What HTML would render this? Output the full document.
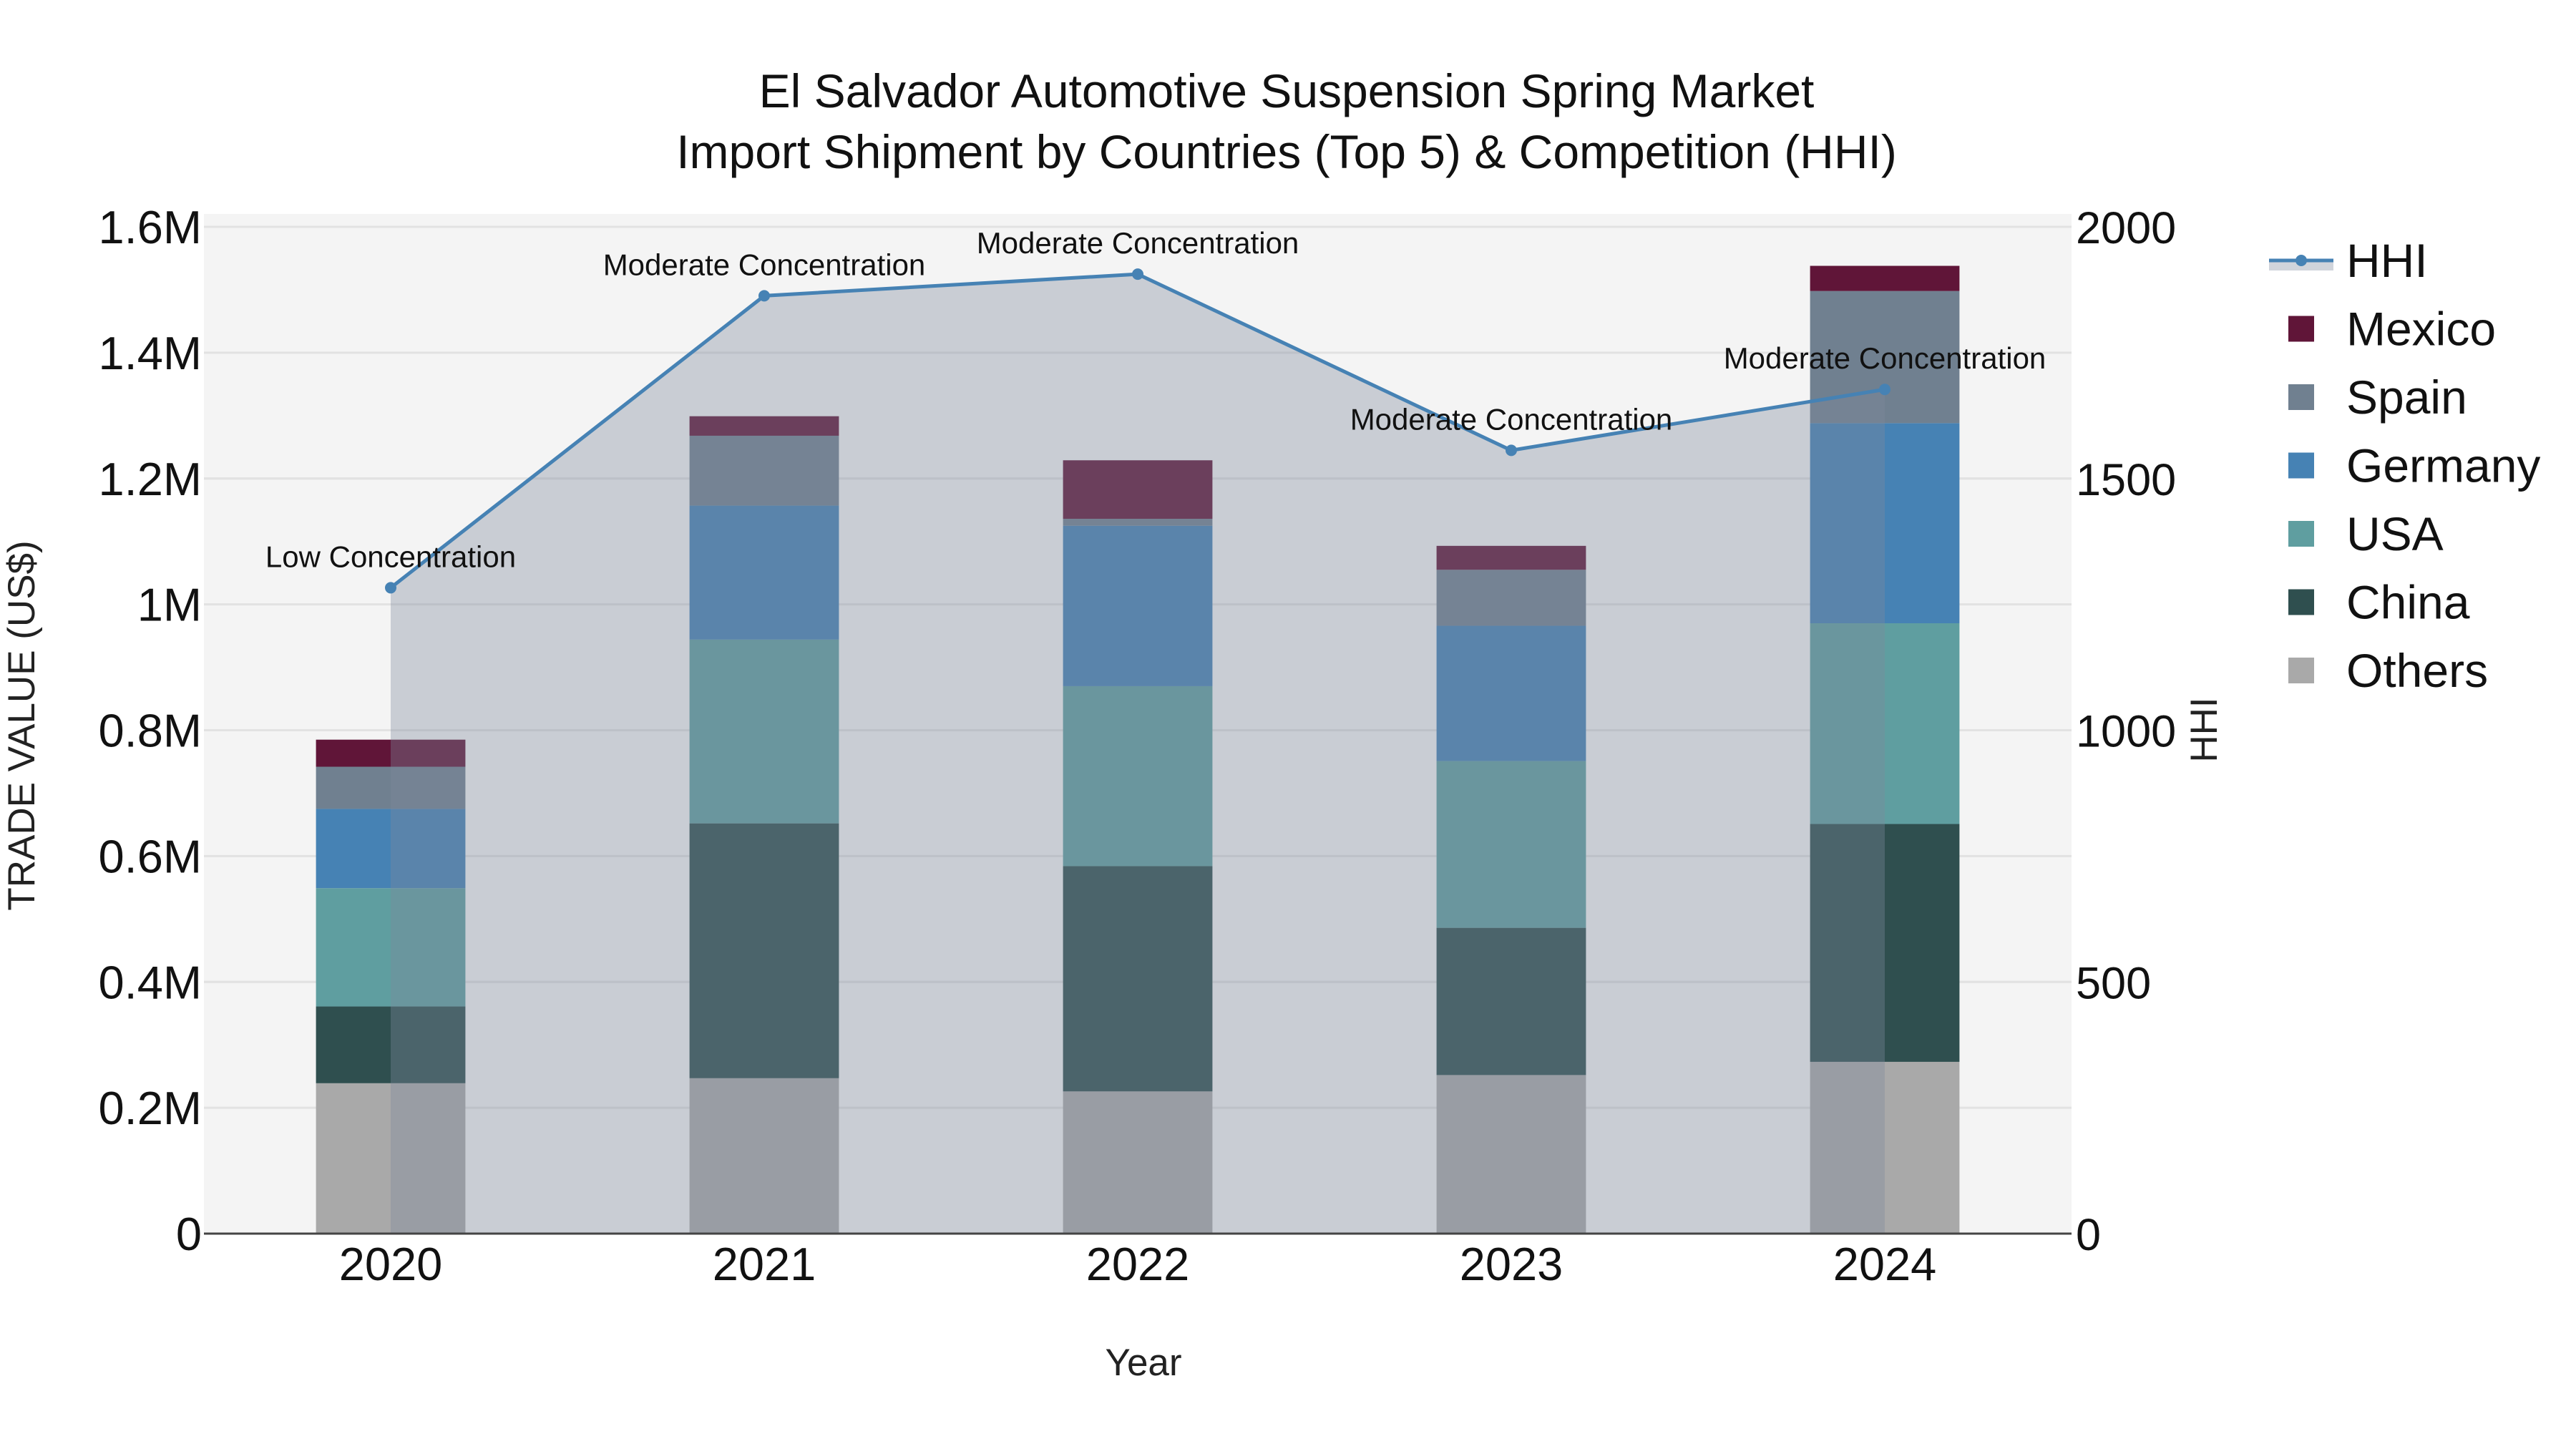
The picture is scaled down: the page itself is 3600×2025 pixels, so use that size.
<!DOCTYPE html>
<html><head><meta charset="utf-8"><style>
html,body{margin:0;padding:0;background:#fff;}
svg{display:block;font-family:"Liberation Sans",sans-serif;}
</style></head><body>
<svg id="chart" width="3600" height="2025" viewBox="0 0 3600 2025" xmlns="http://www.w3.org/2000/svg">
  <rect x="0" y="0" width="3600" height="2025" fill="#ffffff"/>
  <rect x="285" y="299" width="2610" height="1425" fill="#f4f4f4"/>
  <g id="grid"></g>
  <g id="bars"></g>
  <g id="hhi"></g>
  <g id="axes"></g>
  <text x="1798" y="150" text-anchor="middle" font-size="66" fill="#111">El Salvador Automotive Suspension Spring Market</text>
  <text x="1798" y="235" text-anchor="middle" font-size="66" fill="#111">Import Shipment by Countries (Top 5) &amp; Competition (HHI)</text>
  <text x="1598" y="1922" text-anchor="middle" font-size="53" fill="#222">Year</text>
  <text transform="translate(48,1014) rotate(-90)" text-anchor="middle" font-size="53" fill="#222">TRADE VALUE (US$)</text>
  <text transform="translate(3098,1020) rotate(-90)" text-anchor="middle" font-size="53" fill="#222">HHI</text>
  <g id="legend"></g>
</svg>
<script>
const years = ["2020","2021","2022","2023","2024"];
const seriesNames = ["Others","China","USA","Germany","Spain","Mexico"];
const others  = [0.239, 0.247, 0.226, 0.252, 0.273];
const china   = [0.122, 0.405, 0.358, 0.234, 0.378];
const usa     = [0.188, 0.292, 0.286, 0.265, 0.319];
const germany = [0.126, 0.213, 0.255, 0.215, 0.318];
const spain   = [0.067, 0.111, 0.011, 0.089, 0.210];
const mexico  = [0.043, 0.031, 0.093, 0.038, 0.040];
const hhi = [1283, 1863, 1906, 1556, 1677];
const hhiLabels = ["Low Concentration","Moderate Concentration","Moderate Concentration","Moderate Concentration","Moderate Concentration"];
const yTicks = [0,0.2,0.4,0.6,0.8,1,1.2,1.4,1.6];
const yTickLabels = ["0","0.2M","0.4M","0.6M","0.8M","1M","1.2M","1.4M","1.6M"];
const y2Ticks = [0,500,1000,1500,2000];

const colors = {Others:"#a9a9a9",China:"#2f4f4f",USA:"#5f9ea0",Germany:"#4682b4",Spain:"#708090",Mexico:"#601538"};
const values = {Others:others,China:china,USA:usa,Germany:germany,Spain:spain,Mexico:mexico};
const NS="http://www.w3.org/2000/svg";
const L=285,R=2895,T=299,B=1724;
const pxPerM=(1724-317)/1.6;
function xc(i){return L+(R-L)/years.length*(i+0.5);}
function yv(v){return B-v*pxPerM;}
function y2(v){return B-v/2000*(1724-317);}
function mk(tag,attrs,parent){const e=document.createElementNS(NS,tag);for(const k in attrs)e.setAttribute(k,attrs[k]);parent.appendChild(e);return e;}

const grid=document.getElementById('grid');
yTicks.forEach((t,i)=>{
  if(i===0)return;
  const g=mk('line',{x1:L,x2:R,y1:yv(t),y2:yv(t),stroke:'#e2e2e2','stroke-width':3},grid);
  
  
});
y2Ticks.forEach((t,i)=>{
  if(i===0)return;
  const g=mk('line',{x1:L,x2:R,y1:y2(t),y2:y2(t),stroke:'#e2e2e2','stroke-width':3},grid);
  
  
});

const bars=document.getElementById('bars');
const bw=(R-L)/years.length*0.4;
years.forEach((yr,i)=>{
  let base=0;
  seriesNames.forEach(s=>{
    const v=values[s][i];
    const r=mk('rect',{x:xc(i)-bw/2,y:yv(base+v),width:bw,height:yv(base)-yv(base+v),fill:colors[s]},bars);
    
    
    base+=v;
  });
});

const hg=document.getElementById('hhi');
let pts=hhi.map((v,i)=>xc(i)+','+y2(v));
const area=mk('polygon',{points:xc(0)+','+B+' '+pts.join(' ')+' '+xc(hhi.length-1)+','+B,fill:'rgba(125,136,155,0.365)'},hg);


const line=mk('polyline',{points:pts.join(' '),fill:'none',stroke:'#4682b4','stroke-width':5},hg);


hhi.forEach((v,i)=>{
  const c=mk('circle',{cx:xc(i),cy:y2(v),r:8,fill:'#4682b4'},hg);
  
  
  const t=mk('text',{x:xc(i),y:y2(v)-29,'text-anchor':'middle','font-size':42,fill:'#111'},hg);
  t.textContent=hhiLabels[i];
  
  
});

const ax=document.getElementById('axes');
const bl=mk('line',{x1:L,x2:R,y1:B,y2:B,stroke:'#444','stroke-width':3},ax);


yTicks.forEach((t,i)=>{
  const e=mk('text',{x:282,y:yv(t)+23,'text-anchor':'end','font-size':65,fill:'#111'},ax);
  e.textContent=yTickLabels[i];
  
  
});
y2Ticks.forEach(t=>{
  const e=mk('text',{x:2901,y:y2(t)+23,'text-anchor':'start','font-size':63,fill:'#111'},ax);
  e.textContent=String(t);
  
  
});
years.forEach((yr,i)=>{
  const e=mk('text',{x:xc(i),y:1789,'text-anchor':'middle','font-size':65,fill:'#111'},ax);
  e.textContent=yr;
  
  
});

const lg=document.getElementById('legend');
const lx=3171,tx=3279;
const hb=mk('rect',{x:lx,y:364,width:90,height:14,fill:'rgba(125,136,155,0.365)'},lg);


const hl=mk('line',{x1:lx,x2:lx+90,y1:364,y2:364,stroke:'#4682b4','stroke-width':5},lg);


const hc=mk('circle',{cx:lx+45,cy:364,r:8,fill:'#4682b4'},lg);


const ht=mk('text',{x:tx,y:387,'font-size':66,fill:'#111'},lg);
ht.textContent='HHI';


const legendOrder=["Mexico","Spain","Germany","USA","China","Others"];
legendOrder.forEach((s,k)=>{
  const cy=364+95.5*(k+1);
  const r=mk('rect',{x:3198,y:cy-18,width:36,height:36,fill:colors[s]},lg);
  
  
  const t=mk('text',{x:tx,y:cy+23,'font-size':66,fill:'#111'},lg);
  t.textContent=s;
  
  
});
</script>
</body></html>
